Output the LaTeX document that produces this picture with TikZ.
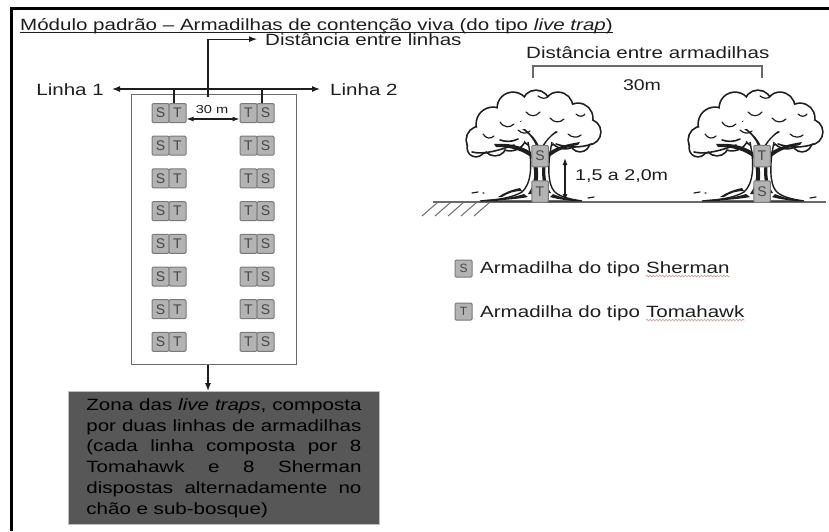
\documentclass[tikz,border=0pt]{standalone}
\usepackage{fontspec}
\usepackage{graphicx}
\setmainfont{Liberation Sans}
\usetikzlibrary{arrows.meta,decorations.pathmorphing,calc}
\hbadness=10000
\definecolor{ink}{HTML}{1E1E1E}
\definecolor{trapfill}{HTML}{B3B3B3}
\definecolor{trapedge}{HTML}{7A7A7A}
\definecolor{trapletter}{HTML}{474747}
\definecolor{zonefill}{HTML}{575757}
\definecolor{rimgray}{HTML}{6A6A6A}
\definecolor{squig}{HTML}{C9A2A2}
\newcommand\mainsz{\fontsize{16.3}{20.8}\selectfont}
% the lettering of this sheet is set wide
\newcommand\wide[1]{\scalebox{1.26}[1]{#1}}

\tikzset{
  txt/.style={inner sep=0pt, text=ink, font=\mainsz},
  trap/.style={rectangle, draw=trapedge, fill=trapfill, line width=1pt,
    rounded corners=1.2pt, minimum width=17pt, minimum height=19pt,
    inner sep=0pt, text=trapletter, font=\fontsize{14}{14}\selectfont},
  treetrap/.style={trap, minimum width=16.5pt, minimum height=21.5pt},
  legtrap/.style={trap, minimum width=17pt, minimum height=17pt,
    font=\fontsize{12}{12}\selectfont},
  conn/.style={draw=ink, line width=1.1pt},
  oneway/.style={-{Latex[length=8pt,width=6pt]}},
  twoway/.style={{Latex[length=8pt,width=6pt]}-{Latex[length=8pt,width=6pt]}},
  smalltwoway/.style={{Latex[length=7pt,width=5pt]}-{Latex[length=7pt,width=5pt]}},
  zonebox/.style={fill=zonefill, draw=black!25, line width=0.8pt,
    inner xsep=18pt, inner ysep=7pt, font=\mainsz},
  squiggle/.style={draw=squig, line width=0.7pt, decorate,
    decoration={snake, amplitude=0.8pt, segment length=3.2pt}},
  oaktree/.pic={
    % crown: heavy stroked discs, then white discs leave only the outer rim
    \foreach \cx/\cy/\r in {-60/-62/13,-47/-78/16,-27/-94/15,-4/-98/13,
        18/-95/14,38/-84/14,48/-70/12,-30/-68/16,0/-74/20,25/-70/16,
        -45/-58/11,-64/-54/8,40/-60/9}
      \draw[line width=3.4pt, draw=ink] (\cx,\cy) circle[radius=\r pt];
    \foreach \cx/\cy/\r in {-60/-62/13,-47/-78/16,-27/-94/15,-4/-98/13,
        18/-95/14,38/-84/14,48/-70/12,-30/-68/16,0/-74/20,25/-70/16,
        -45/-58/11,-64/-54/8,40/-60/9}
      \fill[white] (\cx,\cy) circle[radius=\r pt];
    % leaf curls inside the crown
    \draw[ink, line width=1.2pt, line cap=round]
      (-14,-90) .. controls (-10,-85) and (-4,-85) .. (0,-90)
      (-40,-80) .. controls (-36,-74) and (-30,-74) .. (-26,-78)
      (10,-84) .. controls (14,-79) and (20,-79) .. (24,-83)
      (-57,-68) .. controls (-54,-63) and (-49,-63) .. (-46,-66)
      (28,-68) .. controls (32,-64) and (38,-64) .. (41,-67)
      (-22,-72) .. controls (-18,-68) and (-13,-68) .. (-10,-71)
      (-2,-106) .. controls (2,-103) and (6,-103) .. (9,-106)
      (36,-88) .. controls (39,-85) and (43,-85) .. (45,-88);
    % underside of the crown
    \draw[ink, line width=1.6pt, line cap=round]
      (-68,-50) .. controls (-56,-47) and (-40,-52) .. (-26,-57)
      (16,-58) .. controls (28,-54) and (40,-54) .. (52,-58)
      (-40,-62) .. controls (-34,-60) and (-28,-60) .. (-22,-63);
    % trunk with flared roots
    \draw[ink, line width=1.4pt, fill=white]
      (-12,-60) .. controls (-7,-36) and (-9,-18) .. (-18,-10)
      .. controls (-28,-4) and (-44,-2) .. (-60,-1) -- (42,-1)
      .. controls (28,-3) and (18,-6) .. (14,-11)
      .. controls (8,-18) and (7,-36) .. (12,-60);
    % branches reaching into the crown
    \fill[ink] (-9,-50) .. controls (-20,-57) and (-32,-59) .. (-46,-58)
      -- (-44,-55) .. controls (-30,-55) and (-18,-52) .. (-8,-44) -- cycle;
    \fill[ink] (9,-50) .. controls (18,-56) and (28,-58) .. (40,-60)
      -- (38,-57) .. controls (27,-55) and (17,-52) .. (8,-44) -- cycle;
    \fill[ink] (-4,-56) .. controls (-7,-64) and (-12,-69) .. (-18,-73)
      -- (-15,-73) .. controls (-9,-68) and (-4,-63) .. (-1,-56) -- cycle;
    \fill[ink] (4,-56) .. controls (8,-63) and (12,-67) .. (18,-70)
      -- (16,-71) .. controls (10,-67) and (6,-62) .. (2,-56) -- cycle;
    % bark shading
    \fill[ink] (-9,-46) .. controls (-4,-30) and (-5,-18) .. (-12,-8)
      -- (-7,-8) .. controls (-1,-18) and (0,-30) .. (-5,-46) -- cycle;
    \fill[ink] (6,-42) .. controls (4,-28) and (6,-16) .. (11,-9)
      -- (8,-9) .. controls (2,-16) and (1,-28) .. (3,-42) -- cycle;
    \fill[ink] (-16,-8) .. controls (-28,-4) and (-42,-3) .. (-56,-2)
      -- (-50,-1) .. controls (-36,-2) and (-22,-3) .. (-12,-5) -- cycle;
    \fill[ink] (-20,-14) .. controls (-30,-12) and (-36,-9) .. (-42,-5)
      -- (-38,-5) .. controls (-32,-9) and (-26,-11) .. (-18,-11) -- cycle;
    \fill[ink] (13,-8) .. controls (22,-4) and (30,-3) .. (38,-2)
      -- (33,-1) .. controls (24,-2) and (17,-3) .. (10,-5) -- cycle;
    % tufts on the ground
    \draw[ink, line width=1.2pt, line cap=round]
      (-68,-9) -- (-62,-10) (-57,-9) -- (-56,-9)
      (48,-4) -- (54,-5);
  }
}

\begin{document}
\begin{tikzpicture}[x=1pt,y=-1pt]
\useasboundingbox (0,0) rectangle (829,531);
\fill[white] (0,0) rectangle (829,531);

% page frame
\draw[black, line width=3pt] (11,531) -- (11,8.5) -- (829,8.5);

% heading
\node[txt, anchor=base west] (title) at (20,30)
  {\wide{Módulo padrão – Armadilhas de contenção viva (do tipo \textit{live trap})}};
\draw[ink, line width=0.9pt] ([yshift=-2pt]title.base west) -- ([yshift=-2pt]title.base east);

% ---------- plan of the trapping module ----------
\node[draw=rimgray, line width=1.3pt, minimum width=165pt, minimum height=270pt,
      anchor=north west, inner sep=0pt] (zone) at (131,94) {};

\foreach \i in {1,...,8} {
  \pgfmathsetmacro\yy{113+32.7*(\i-1)}
  \node[trap] (ls\i) at (160.5,\yy) {S};
  \node[trap] (lt\i) at (177.5,\yy) {T};
  \node[trap] (rt\i) at (248.5,\yy) {T};
  \node[trap] (rs\i) at (265.5,\yy) {S};
}

% line labels
\node[txt, anchor=base east] (lin1) at (104,95) {\wide{Linha 1}};
\node[txt, anchor=base west] (lin2) at (330,95) {\wide{Linha 2}};
\coordinate (l1tip) at (112,89);
\coordinate (l2tip) at (320,89);
\draw[conn, twoway] (l1tip) -- (l2tip);
\draw[conn] ([xshift=-3.5pt]lt1.north) -- ([xshift=-3.5pt]lt1.north |- l1tip);
\draw[conn] ([xshift=-3.5pt]rs1.north) -- ([xshift=-3.5pt]rs1.north |- l2tip);

% spacing between the lines
\node[txt, anchor=base west] (dlin) at (265,45) {\wide{Distância entre linhas}};
\coordinate (dfoot) at (208,97);
\draw[conn, oneway] (dfoot) |- ([xshift=-8pt]dlin.west);
\node[txt, font=\fontsize{11.6}{12}\selectfont, anchor=base] (d30) at (212,113) {\wide{30 m}};
\draw[conn, smalltwoway] ([yshift=-6pt]lt1.east) -- ([yshift=-6pt]rt1.west);

% description of the zone
\node[zonebox, anchor=north west] (zbox) at (68,391)
  {\wide{\parbox{218.3pt}{\color{black}\mainsz
   Zona das \textit{live traps}, composta\linebreak
   por duas linhas de armadilhas\linebreak
   (cada linha composta por 8\linebreak
   Tomahawk e 8 Sherman\linebreak
   dispostas alternadamente no\linebreak
   chão e sub-bosque)}}};
\draw[conn, oneway] (dfoot |- zone.south) -- (dfoot |- zbox.north);

% ---------- side view: traps on the trees ----------
\node[txt, anchor=base west] (darm) at (526,58) {\wide{Distância entre armadilhas}};
\coordinate (bl) at (533,78);
\coordinate (br) at (762,78);
\draw[rimgray, line width=1.1pt] (bl) -- ++(0,-12) -| (br);
\node[txt, font=\fontsize{15.5}{16}\selectfont, anchor=base] (arm30) at (642,90) {\wide{30m}};

% ground
\coordinate (g0) at (433,202);
\coordinate (g1) at (826,202);
\draw[rimgray, line width=1.2pt] (g0) -- (g1);
\foreach \hx in {438,451,464,477,490}
  \draw[rimgray, line width=1pt] (\hx,202) -- ++(-16,14);

\pic at (540,202) {oaktree};
\pic at (762,202) {oaktree};

\node[treetrap] (ts1) at (540,156) {S};
\node[treetrap] (tt1) at (540,191.5) {T};
\node[treetrap] (tt2) at (762,156) {T};
\node[treetrap] (ts2) at (762,191.5) {S};

\coordinate (htop) at (565,158);
\coordinate (hbot) at (565,201);
\draw[conn, smalltwoway] (htop) -- (hbot);
\node[txt, font=\fontsize{15.6}{16}\selectfont, anchor=base west] (hgt) at (575,180) {\wide{1,5 a 2,0m}};

% ---------- legend ----------
\node[legtrap] (legs) at (463.5,268.5) {S};
\node[txt, anchor=base west] (legstxt) at (480,273) {\wide{Armadilha do tipo}};
\node[txt, anchor=base west] (legsname) at ([xshift=5.7pt]legstxt.base east) {\wide{Sherman}};
\draw[squiggle] ([yshift=-3pt]legsname.base west) -- ([yshift=-3pt]legsname.base east);

\node[legtrap] (legt) at (463.5,311.5) {T};
\node[txt, anchor=base west] (legttxt) at (480,317) {\wide{Armadilha do tipo}};
\node[txt, anchor=base west] (legtname) at ([xshift=5.7pt]legttxt.base east) {\wide{Tomahawk}};
\draw[squiggle] ([yshift=-3pt]legtname.base west) -- ([yshift=-3pt]legtname.base east);
\end{tikzpicture}
\end{document}
